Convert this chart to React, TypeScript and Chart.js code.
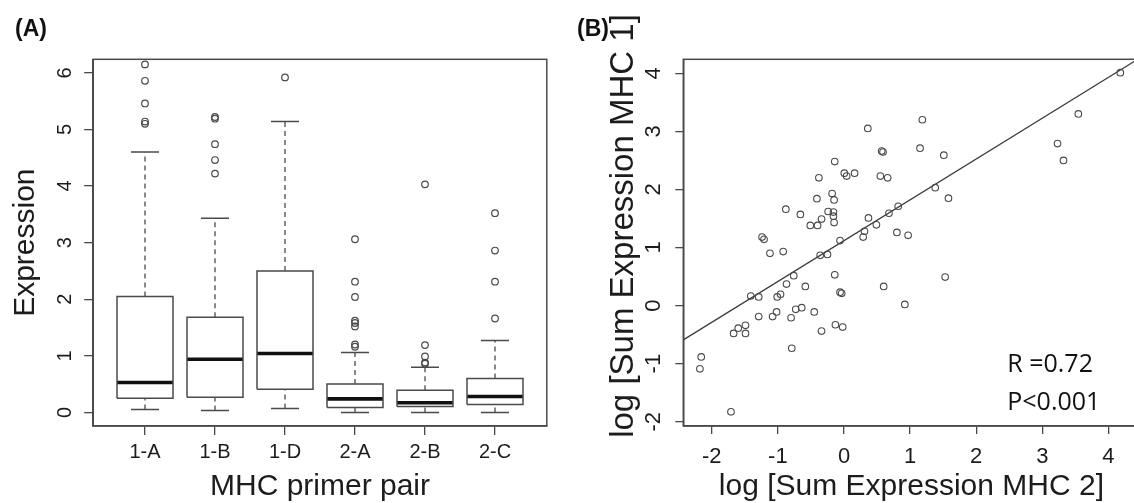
import React, { useEffect, useRef } from "react";
import { Chart, registerables } from "chart.js";

Chart.register(...registerables);

// ---------- Panel A: boxplot data ----------
const categories = ["1-A", "1-B", "1-D", "2-A", "2-B", "2-C"];
const whiskerLow = [0.05, 0.035, 0.07, 0.0, 0.0, 0.0];
const boxLow = [0.25, 0.27, 0.41, 0.085, 0.105, 0.14];
const medians = [0.53, 0.94, 1.04, 0.24, 0.17, 0.28];
const boxHigh = [2.05, 1.68, 2.5, 0.5, 0.39, 0.6];
const whiskerHigh = [4.6, 3.43, 5.14, 1.06, 0.8, 1.27];
const outliers = [
  [6.15, 5.86, 5.46, 5.14, 5.1],
  [5.22, 5.19, 4.74, 4.46, 4.22],
  [5.92],
  [3.06, 2.31, 2.04, 1.62, 1.58, 1.52, 1.2, 1.16],
  [4.03, 1.19, 0.99, 0.88, 0.86],
  [3.52, 2.86, 2.31, 1.66],
];
const yTicksA = [0, 1, 2, 3, 4, 5, 6];

// ---------- Panel B: scatter data ----------
const scatterX = [
  -2.16, -2.18, -1.71, -1.67, -1.6, -1.49, -1.49, -1.41, -1.29, -1.29,
  -1.24, -1.21, -1.12, -1.08, -1.02, -1.01, -0.96, -0.92, -0.88, -0.87,
  -0.79, -0.8, -0.76, -0.73, -0.64, -0.66, -0.585, -0.51, -0.45, -0.4,
  -0.41, -0.38, -0.34, -0.34, -0.36, -0.25, -0.24,
  -0.14, 0.005, 0.04, 0.16, 0.36, 0.57, 0.59, 0.55, 0.66, 1.15,
  1.185, 1.51, 1.38, 1.58, -0.18, -0.15, -0.16, -0.16, -0.15, -0.06,
  -0.14, -0.06, -0.035, -0.13, -0.02, 0.29, 0.31, 0.37, 0.49, 0.68,
  0.82, 0.8, 0.97, 0.6, 0.92, 1.53,
  4.18, 3.545, 3.23, 3.32,
];
const scatterY = [
  -0.885, -1.09, -1.83, -0.48, -0.39, -0.34, -0.48, 0.165, 0.148, -0.19,
  1.18, 1.14, 0.9, -0.19, -0.11, 0.148, 0.195, 0.93, 1.66, 0.37,
  -0.735, -0.21, 0.515, -0.064, -0.036, 1.57, 0.33, 1.38, -0.11, 1.38,
  1.84, 2.2, 1.49, -0.44, 0.866, 0.88, 1.62,
  2.48, 2.28, 2.23, 2.28, 3.05, 2.66, 2.645, 2.23, 2.2, 2.71,
  3.2, 2.59, 2.03, 1.85, 1.93, 1.82, 1.61, 1.54, 1.43, 1.12,
  0.53, 0.23, 0.21, -0.33, -0.37, 1.18, 1.28, 1.51, 1.39, 1.59,
  1.71, 1.26, 1.21, 0.33, 0.02, 0.49,
  4.01, 3.3, 2.79, 2.5,
];
const fitIntercept = 1.118;
const fitSlope = 0.703;
const xTicksB = [-2, -1, 0, 1, 2, 3, 4];
const yTicksB = [-2, -1, 0, 1, 2, 3, 4];
const statLines = ["R =0.72", "P<0.001"];

// ---------- styling ----------
const FONT = "'Liberation Sans', Arial, Helvetica, sans-serif";
const INK = "#1c1c1c";
const LINE = "#4a4a4a";
const BOX_HALF = 0.4;
const CAP_HALF = 0.2;

const framePlugin = {
  id: "frame",
  afterDatasetsDraw(chart: any) {
    const { ctx, chartArea } = chart;
    ctx.save();
    ctx.strokeStyle = LINE;
    ctx.lineWidth = 1.5;
    ctx.strokeRect(chartArea.left, chartArea.top, chartArea.right - chartArea.left, chartArea.bottom - chartArea.top);
    ctx.restore();
  },
};

// draws y tick labels rotated (R style, parallel to the axis)
function rotatedYTicks(id: string, cx: number, size: number) {
  return {
    id,
    afterDraw(chart: any) {
      const ctx = chart.ctx as CanvasRenderingContext2D;
      const sy = chart.scales.y;
      ctx.save();
      ctx.fillStyle = INK;
      ctx.font = `${size}px ${FONT}`;
      ctx.textAlign = "center";
      ctx.textBaseline = "middle";
      for (const t of sy.ticks) {
        const py = sy.getPixelForValue(t.value);
        ctx.save();
        ctx.translate(cx, py);
        ctx.rotate(-Math.PI / 2);
        ctx.fillText(String(t.value), 0, 0);
        ctx.restore();
      }
      ctx.restore();
    },
  };
}

function textPlugin(id: string, draw: (chart: any, ctx: CanvasRenderingContext2D) => void) {
  return {
    id,
    afterDraw(chart: any) {
      const ctx = chart.ctx as CanvasRenderingContext2D;
      ctx.save();
      draw(chart, ctx);
      ctx.restore();
    },
  };
}

function lineDs(points: { x: number; y: number }[], width: number, color: string, dash: number[] = []) {
  return {
    type: "scatter",
    data: points,
    showLine: true,
    borderColor: color,
    borderWidth: width,
    borderDash: dash,
    borderCapStyle: "butt",
    borderJoinStyle: "miter",
    pointRadius: 0,
    pointHoverRadius: 0,
    fill: false,
    tension: 0,
  };
}

function buildBoxDatasets() {
  const ds: any[] = [];
  categories.forEach((_, i) => {
    const x = i + 1;
    ds.push(lineDs([{ x, y: boxHigh[i] }, { x, y: whiskerHigh[i] }], 1.3, LINE, [5, 4]));
    ds.push(lineDs([{ x, y: whiskerLow[i] }, { x, y: boxLow[i] }], 1.3, LINE, [5, 4]));
    ds.push(lineDs([{ x: x - CAP_HALF, y: whiskerHigh[i] }, { x: x + CAP_HALF, y: whiskerHigh[i] }], 1.5, LINE));
    ds.push(lineDs([{ x: x - CAP_HALF, y: whiskerLow[i] }, { x: x + CAP_HALF, y: whiskerLow[i] }], 1.5, LINE));
    ds.push(
      lineDs(
        [
          { x: x - BOX_HALF, y: boxLow[i] },
          { x: x + BOX_HALF, y: boxLow[i] },
          { x: x + BOX_HALF, y: boxHigh[i] },
          { x: x - BOX_HALF, y: boxHigh[i] },
          { x: x - BOX_HALF, y: boxLow[i] },
        ],
        1.5,
        LINE
      )
    );
    ds.push(lineDs([{ x: x - BOX_HALF, y: medians[i] }, { x: x + BOX_HALF, y: medians[i] }], 3.6, "#111111"));
    ds.push({
      type: "scatter",
      data: outliers[i].map((y) => ({ x, y })),
      showLine: false,
      pointRadius: 3.3,
      pointHoverRadius: 3.3,
      pointBorderWidth: 1.2,
      pointBorderColor: LINE,
      pointBackgroundColor: "rgba(0,0,0,0)",
      clip: false,
    });
  });
  return ds;
}

function axisBase(tickLength: number) {
  return {
    grid: { drawOnChartArea: false, drawTicks: true, tickLength, color: LINE, lineWidth: 1.3 },
    border: { display: true, color: LINE, width: 1.5 },
  };
}

function configA(): any {
  return {
    type: "scatter",
    data: { datasets: buildBoxDatasets() },
    options: {
      responsive: false,
      animation: false,
      events: [],
      devicePixelRatio: 1,
      layout: { padding: { left: 0, top: 59.3, right: 560 - 546.8, bottom: 0 } },
      plugins: { legend: { display: false }, tooltip: { enabled: false } },
      scales: {
        x: {
          type: "linear",
          position: "bottom",
          min: 0.26,
          max: 6.74,
          afterBuildTicks: (s: any) => {
            s.ticks = categories.map((_, i) => ({ value: i + 1 }));
          },
          afterFit: (s: any) => {
            s.height = 503 - 426;
          },
          ticks: {
            autoSkip: false,
            minRotation: 0,
            maxRotation: 0,
            padding: 5.4,
            color: INK,
            font: { family: FONT, size: 20 },
            callback: (v: number) => categories[Math.round(v) - 1] ?? "",
          },
          ...axisBase(9),
          title: {
            display: true,
            text: "MHC primer pair",
            color: INK,
            font: { family: FONT, size: 30, lineHeight: 1 },
            padding: { top: 0, bottom: 1.4 },
          },
        },
        y: {
          type: "linear",
          min: -0.24,
          max: 6.24,
          afterBuildTicks: (s: any) => {
            s.ticks = yTicksA.map((v) => ({ value: v }));
          },
          afterFit: (s: any) => {
            s.width = 93.2;
          },
          ticks: { display: false },
          ...axisBase(9),
          title: {
            display: true,
            text: "Expression",
            color: INK,
            font: { family: FONT, size: 30, lineHeight: 1 },
            padding: { top: 10.6, bottom: 0 },
          },
        },
      },
    },
    plugins: [
      framePlugin,
      rotatedYTicks("yTicksA", 65.2, 20),
      textPlugin("labelA", (_c, ctx) => {
        ctx.fillStyle = "#111111";
        ctx.font = `bold 23px ${FONT}`;
        ctx.textAlign = "left";
        ctx.textBaseline = "alphabetic";
        ctx.fillText("(A)", 15, 36);
      }),
    ],
  };
}

function configB(): any {
  const xMin = -2.431;
  const xMax = 4.47;
  const points = scatterX.map((x, i) => ({ x, y: scatterY[i] }));
  return {
    type: "scatter",
    data: {
      datasets: [
        {
          type: "scatter",
          data: points,
          showLine: false,
          pointRadius: 3.3,
          pointHoverRadius: 3.3,
          pointBorderWidth: 1.1,
          pointBorderColor: LINE,
          pointBackgroundColor: "rgba(0,0,0,0)",
        },
        lineDs(
          [
            { x: xMin, y: fitIntercept + fitSlope * xMin },
            { x: xMax, y: fitIntercept + fitSlope * xMax },
          ],
          1.2,
          "#3a3a3a"
        ),
      ],
    },
    options: {
      responsive: false,
      animation: false,
      events: [],
      devicePixelRatio: 1,
      layout: { padding: { left: 0, top: 59.3, right: 600 - 579.5, bottom: 0 } },
      plugins: { legend: { display: false }, tooltip: { enabled: false } },
      scales: {
        x: {
          type: "linear",
          position: "bottom",
          min: xMin,
          max: xMax,
          afterBuildTicks: (s: any) => {
            s.ticks = xTicksB.map((v) => ({ value: v }));
          },
          afterFit: (s: any) => {
            s.height = 503 - 426;
          },
          ticks: {
            autoSkip: false,
            minRotation: 0,
            maxRotation: 0,
            padding: 10,
            color: INK,
            font: { family: FONT, size: 22 },
            callback: (v: number) => String(v),
          },
          ...axisBase(8),
          title: {
            display: true,
            text: "log [Sum Expression MHC 2]",
            color: INK,
            font: { family: FONT, size: 30, lineHeight: 1 },
            padding: { top: 0, bottom: 1.4 },
          },
        },
        y: {
          type: "linear",
          min: -2.074,
          max: 4.241,
          afterBuildTicks: (s: any) => {
            s.ticks = yTicksB.map((v) => ({ value: v }));
          },
          afterFit: (s: any) => {
            s.width = 123.3;
          },
          ticks: { display: false },
          ...axisBase(8),
        },
      },
    },
    plugins: [
      framePlugin,
      rotatedYTicks("yTicksB", 94, 22),
      textPlugin("labelsB", (chart, ctx) => {
        ctx.fillStyle = "#111111";
        ctx.font = `bold 23px ${FONT}`;
        ctx.textAlign = "left";
        ctx.textBaseline = "alphabetic";
        ctx.fillText("(B)", 17, 36);

        ctx.save();
        ctx.fillStyle = INK;
        ctx.translate(64, 226);
        ctx.rotate(-Math.PI / 2);
        ctx.font = `33px ${FONT}`;
        ctx.textAlign = "center";
        ctx.textBaseline = "middle";
        ctx.fillText("log [Sum Expression MHC 1]", 0, 0);
        ctx.restore();

        const sx = chart.scales.x;
        const sy = chart.scales.y;
        ctx.font = `25px 'Open Sans', 'Noto Sans', sans-serif`;
        ctx.textAlign = "left";
        ctx.textBaseline = "alphabetic";
        ctx.fillStyle = "#111111";
        const tx = sx.getPixelForValue(2.47);
        ctx.fillText(statLines[0], tx, sy.getPixelForValue(-1.138));
        ctx.fillText(statLines[1], tx, sy.getPixelForValue(-1.798));
      }),
    ],
  };
}

export default function App() {
  const refA = useRef<HTMLCanvasElement | null>(null);
  const refB = useRef<HTMLCanvasElement | null>(null);

  useEffect(() => {
    const a = new Chart(refA.current as HTMLCanvasElement, configA());
    const b = new Chart(refB.current as HTMLCanvasElement, configB());
    return () => {
      a.destroy();
      b.destroy();
    };
  }, []);

  return (
    <div
      style={{
        position: "absolute",
        left: 0,
        top: 0,
        width: 1134,
        height: 503,
        overflow: "hidden",
        background: "#ffffff",
      }}
    >
      <canvas ref={refA} width={560} height={503} style={{ position: "absolute", left: 0, top: 0 }} />
      <canvas ref={refB} width={600} height={503} style={{ position: "absolute", left: 560, top: 0 }} />
    </div>
  );
}
